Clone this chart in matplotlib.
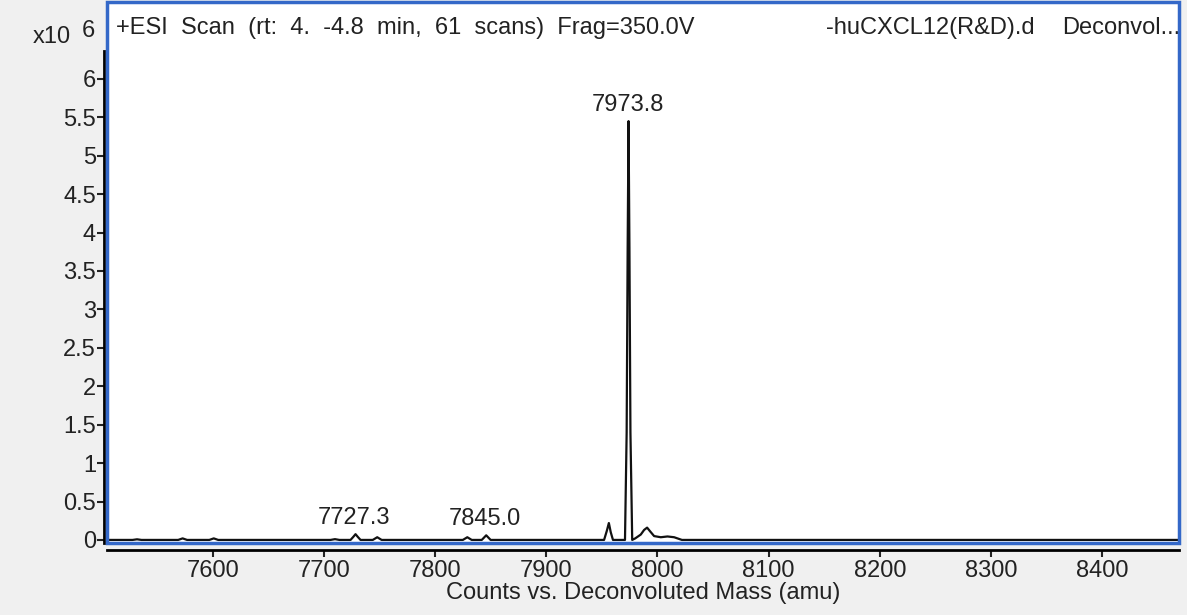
import matplotlib.pyplot as plt
import matplotlib.patches as patches
import numpy as np

# deconvoluted spectrum trace (mass in amu, counts in x10^6)
mass = [7505, 7528, 7532, 7536, 7569, 7573, 7577, 7597, 7601, 7605,
        7706, 7710, 7714, 7724, 7726.5, 7728.5, 7730.5, 7733,
        7744, 7748, 7752, 7825, 7829, 7833, 7842, 7844, 7846, 7848, 7850,
        7952, 7954.5, 7956.3, 7958, 7960, 7970.8, 7972.3, 7973.2, 7974,
        7974.8, 7975.7, 7977.3, 7980, 7985, 7988, 7990.7, 7993.5, 7997,
        8003, 8009, 8015, 8022, 8469]
counts = [0, 0, 0.008, 0, 0, 0.02, 0, 0, 0.02, 0,
          0, 0.01, 0, 0, 0.04, 0.075, 0.04, 0,
          0, 0.035, 0, 0, 0.035, 0, 0, 0.03, 0.06, 0.03, 0,
          0, 0.12, 0.22, 0.1, 0, 0, 1.4, 3.8, 5.45,
          3.8, 1.4, 0, 0.02, 0.07, 0.13, 0.16, 0.11, 0.05,
          0.035, 0.045, 0.035, 0, 0]

label_mass = [7727.3, 7845.0, 7973.8]
label_text = ["7727.3", "7845.0", "7973.8"]

yticks = np.arange(0, 6.01, 0.5)
ytick_labels = ["0", "0.5", "1", "1.5", "2", "2.5", "3", "3.5", "4", "4.5", "5", "5.5", "6"]
xticks = [7600, 7700, 7800, 7900, 8000, 8100, 8200, 8300, 8400]

plt.rcParams['font.family'] = ['Liberation Sans Narrow', 'Liberation Sans', 'DejaVu Sans']
fs = 17

fig = plt.figure(figsize=(11.87, 6.15), dpi=100, facecolor='#f0f0f0')
ax = fig.add_axes([107/1187, 1 - 543/615, 1072/1187, 541/615])
ax.set_facecolor('white')

ax.plot(mass, counts, color='#111111', lw=1.6)
ax.set_xlim(7505, 8469)
ax.set_ylim(-0.04, 7.0)

m = np.array(mass)
c = np.array(counts)
for lm, lt in zip(label_mass, label_text):
    top = c[(m > lm - 4) & (m < lm + 4)].max()
    ax.annotate(lt, (lm, top), xytext=(0, 4), textcoords='offset points',
                ha='center', va='bottom', fontsize=fs, color='#222222')

# blue frame round the plot area
ax.add_patch(patches.Rectangle((0, 0), 1, 1, transform=ax.transAxes, fill=False,
                               edgecolor='#3468c8', lw=2.5, clip_on=False, zorder=5))
for s in ['top', 'right']:
    ax.spines[s].set_visible(False)
ax.spines['left'].set_position(('outward', 2))
ax.spines['left'].set_bounds(-0.04, 6.36)
ax.spines['bottom'].set_position(('outward', 5))
ax.spines['left'].set_linewidth(2)
ax.spines['bottom'].set_linewidth(2)

ax.set_yticks(yticks)
ax.set_yticklabels(ytick_labels)
ax.set_xticks(xticks)
ax.tick_params(axis='both', length=5, width=1.5, labelsize=fs, colors='#222222')
ax.tick_params(axis='y', pad=1)
ax.tick_params(axis='x', pad=2)

ax.set_xlabel("Counts vs. Deconvoluted Mass (amu)", fontsize=fs, color='#222222', labelpad=0)

ax.text(0.0084, 0.952, "+ESI  Scan  (rt:  4.  -4.8  min,  61  scans)  Frag=350.0V",
        transform=ax.transAxes, ha='left', va='center', fontsize=fs, color='#222222')
ax.text(0.6707, 0.952, "-huCXCL12(R&D).d", transform=ax.transAxes,
        ha='left', va='center', fontsize=fs, color='#222222')
ax.text(0.8909, 0.952, "Deconvol...", transform=ax.transAxes,
        ha='left', va='center', fontsize=fs, color='#222222')

fig.text(52/1187, 1 - 37/615, "x10", ha='center', va='center', fontsize=fs, color='#222222')
fig.text(88/1187, 1 - 31/615, "6", ha='center', va='center', fontsize=fs, color='#222222')

fig.savefig('out.png', dpi=100, facecolor=fig.get_facecolor())
